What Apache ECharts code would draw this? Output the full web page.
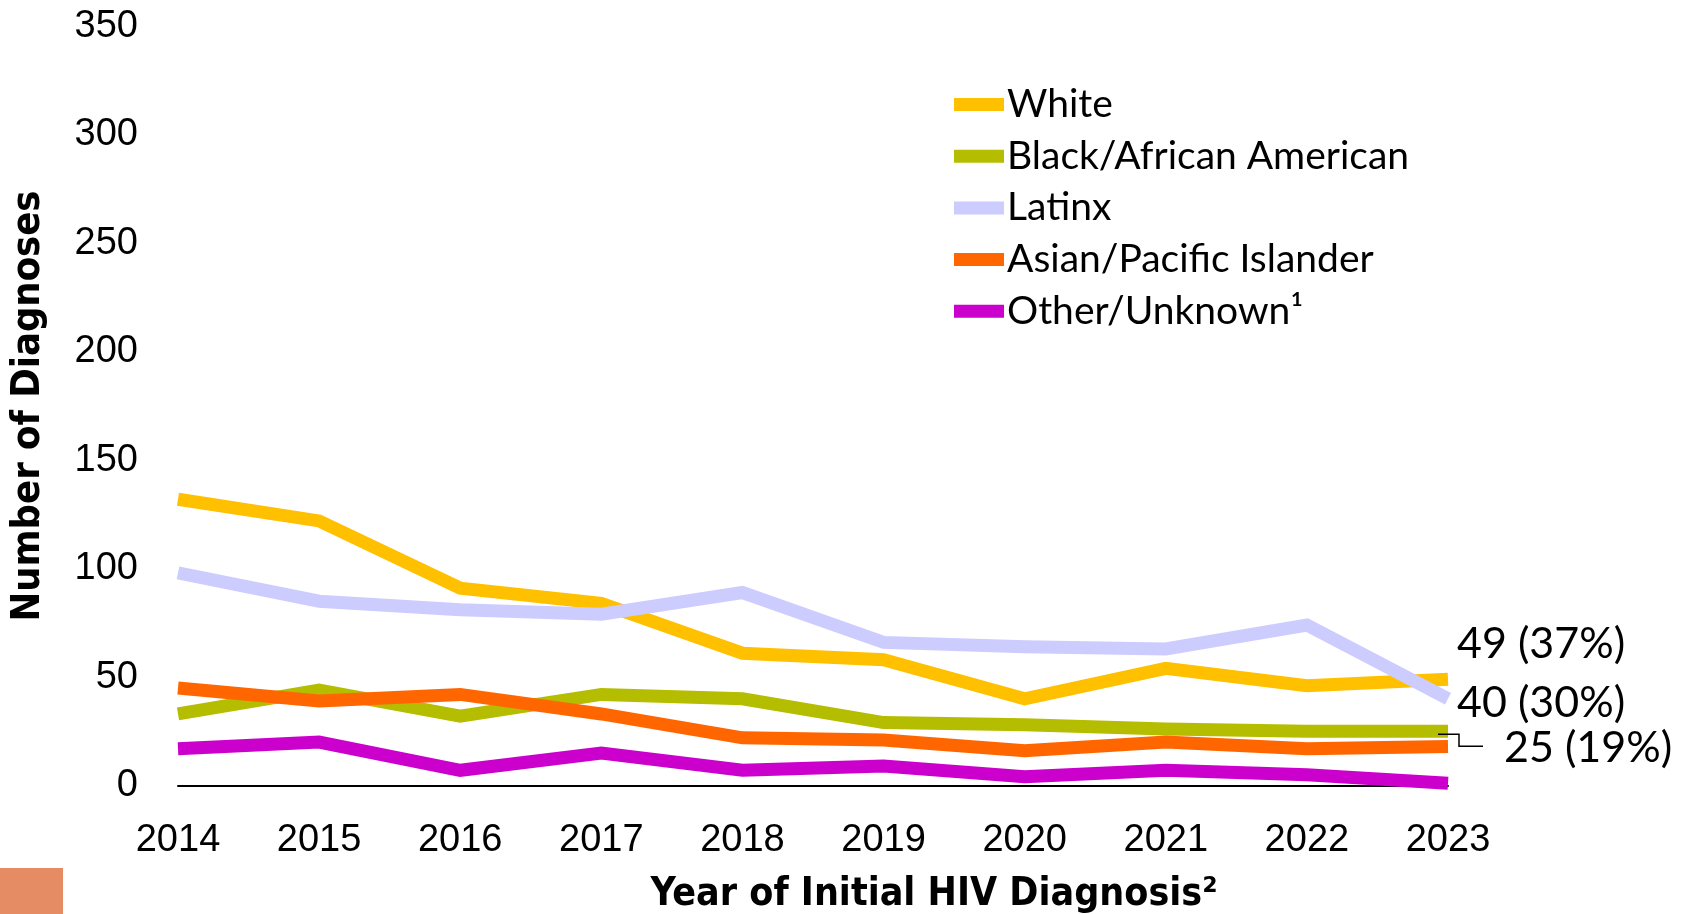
<!DOCTYPE html>
<html><head><meta charset="utf-8">
<script src="https://cdn.jsdelivr.net/npm/echarts@6/dist/echarts.min.js"></script>
<style>html,body{margin:0;padding:0;background:#fff}#c{width:1688px;height:914px}</style>
</head><body><div id="c"></div>
<script>
const years = ['2014','2015','2016','2017','2018','2019','2020','2021','2022','2023'];
const seriesNames = ['White','Black/African American','Latinx','Asian/Pacific Islander','Other/Unknown¹'];
const white  = [132, 122, 91, 84, 61, 58, 40, 54, 46, 49];
const black  = [33, 44, 32, 42, 40, 29, 28, 26, 25, 25];
const latinx = [98, 85, 81, 79, 89, 66, 64, 63, 74, 40];
const asian  = [45, 39, 42, 33, 22, 21, 16, 20, 17, 18];
const other  = [17, 20, 7, 15, 7, 9, 4, 7, 5, 1];
const endLabels = ['49 (37%)', '25 (19%)', '40 (30%)', null, null];
const colors = ['#FFC000', '#B5BD00', '#CCCCFF', '#FF6600', '#CC00CC'];
const yTicks = [0, 50, 100, 150, 200, 250, 300, 350];

const values = [white, black, latinx, asian, other];
const labelOffsets = [[4, -35], [51, 17], [4, 4], [0, 0], [0, 0]];
const FONT = 'Lato';

const chart = echarts.init(document.getElementById('c'));
const series = seriesNames.map((n, i) => ({
  name: n, type: 'line', data: values[i], showSymbol: false, symbol: 'none',
  lineStyle: { color: colors[i], width: 13, cap: 'butt', join: 'miter' },
  itemStyle: { color: colors[i] },
  emphasis: { disabled: true },
  endLabel: endLabels[i] ? {
    show: true, formatter: endLabels[i], offset: labelOffsets[i],
    color: '#000', fontSize: 43, fontFamily: FONT, distance: 5
  } : { show: false }
}));

const baseGraphic = [
  { type: 'rect', left: 0, top: 868, shape: { width: 63, height: 46 }, style: { fill: '#E58C64' } },
  { type: 'text', x: 934, y: 895, style: { text: 'Year of Initial HIV Diagnosis²', fontSize: 39, fontWeight: 'bold',
      fontFamily: 'DejaVu Sans Condensed', fill: '#000', textAlign: 'center', textVerticalAlign: 'middle' } }
];

chart.setOption({
  animation: false,
  backgroundColor: '#fff',
  grid: { left: 178, right: 240, top: 26.5, bottom: 128.5, containLabel: false },
  legend: {
    orient: 'vertical', left: 949, top: 80, icon: 'rect',
    itemWidth: 50, itemHeight: 13, itemGap: 12.7,
    textStyle: { fontSize: 39, fontFamily: FONT, color: '#000', lineHeight: 39, padding: [0,0,0,-2] },
    data: seriesNames
  },
  xAxis: {
    type: 'category', data: years, boundaryGap: false,
    axisLine: { lineStyle: { color: '#000', width: 2 } },
    axisTick: { show: false },
    axisLabel: { fontSize: 38, fontFamily: 'Liberation Sans', color: '#000', margin: 36 }
  },
  yAxis: {
    type: 'value', min: yTicks[0], max: yTicks[yTicks.length - 1], interval: 50,
    name: 'Number of Diagnoses', nameLocation: 'middle', nameGap: 129, nameRotate: 90,
    nameTextStyle: { fontSize: 39.5, fontWeight: 'bold', fontFamily: 'DejaVu Sans Condensed', color: '#000' },
    axisLine: { show: false }, axisTick: { show: false }, splitLine: { show: false },
    axisLabel: { fontSize: 38, fontFamily: 'Liberation Sans', color: '#000', margin: 40 }
  },
  series: series,
  graphic: baseGraphic
});

// leader line for the Black/African American end label, anchored on its last data point
const bi = 1, last = years.length - 1;
const p = chart.convertToPixel({ seriesIndex: bi }, [last, values[bi][last]]);
chart.setOption({ graphic: baseGraphic.concat([
  { type: 'polyline', shape: { points: [[p[0] - 10, p[1] + 3], [p[0] + 11, p[1] + 3], [p[0] + 11, p[1] + 15], [p[0] + 35, p[1] + 15]] },
    style: { stroke: '#000', lineWidth: 1.5, fill: 'none' }, z: 100 }
]) });
</script></body></html>
